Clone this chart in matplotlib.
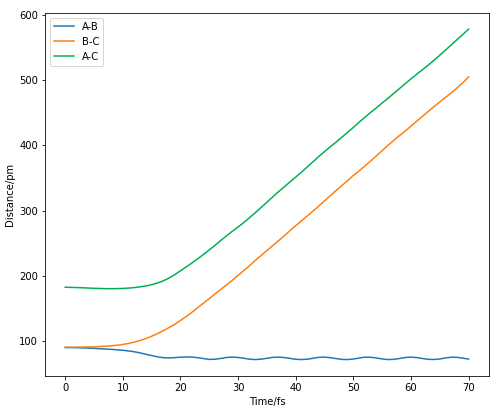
import numpy as np
import matplotlib
matplotlib.use("Agg")
import matplotlib.pyplot as plt

# tempo in fs, distanze in pm
time_fs = np.arange(0, 71, 1)

dist_ab = [90.5, 90.4, 90.2, 90.0, 89.6, 89.2, 88.7, 88.2, 87.7, 87.0,
           86.3, 85.3, 84.0, 82.3, 80.2, 78.2, 76.3, 75.0, 74.6, 75.0,
           75.7, 76.1, 75.9, 75.0, 73.6, 72.3, 72.6, 73.8, 75.3, 75.9,
           75.3, 74.0, 72.7, 72.1, 72.7, 74.0, 75.4, 75.8, 75.2, 73.9,
           72.5, 72.1, 72.6, 74.0, 75.5, 75.8, 75.0, 73.6, 72.3, 72.1,
           72.9, 74.4, 75.7, 75.6, 74.5, 73.0, 72.1, 72.4, 73.7, 75.2,
           75.8, 75.1, 73.7, 72.4, 72.2, 73.0, 74.6, 75.7, 75.5, 74.2,
           72.8]

dist_bc = [91.0, 91.0, 91.1, 91.2, 91.4, 91.6, 92.0, 92.5, 93.1, 94.0,
           95.2, 96.8, 98.8, 101.3, 104.3, 107.8, 111.8, 116.2, 121.0, 126.0,
           132.0, 138.0, 144.5, 151.5, 158.5, 165.5, 172.5, 179.5, 186.5, 193.5,
           201.0, 208.5, 216.0, 224.0, 231.5, 239.0, 246.5, 254.0, 261.5, 269.5,
           277.0, 284.5, 292.0, 299.5, 307.0, 315.0, 323.0, 331.0, 338.5, 346.0,
           354.0, 361.0, 368.5, 376.0, 384.0, 392.0, 400.0, 407.5, 415.0, 422.0,
           429.5, 437.0, 444.5, 452.0, 459.5, 466.5, 473.5, 480.5, 488.0, 496.0,
           505.0]

dist_ac = [182.8, 182.6, 182.3, 182.0, 181.6, 181.2, 180.9, 180.7, 180.6, 180.7,
           181.0, 181.5, 182.3, 183.4, 184.8, 186.7, 189.2, 192.5, 196.8, 202.0,
           208.0, 214.0, 220.0, 226.5, 233.0, 240.0, 247.0, 254.5, 261.5, 268.5,
           275.0, 282.0, 289.5, 297.0, 305.0, 313.0, 321.0, 329.0, 336.5, 344.0,
           351.5, 359.0, 367.0, 375.0, 383.0, 390.5, 398.0, 405.0, 412.5, 420.0,
           427.5, 435.5, 443.0, 450.5, 457.5, 465.0, 472.0, 479.5, 487.0, 494.5,
           502.0, 509.0, 516.0, 523.0, 530.5, 538.0, 546.0, 554.0, 562.0, 570.0,
           578.0]

fig = plt.figure(figsize=(492 / 72, 407 / 72), dpi=72)
ax = fig.add_axes([0.0915, 0.076, 0.902, 0.893])

ax.plot(time_fs, dist_ab, label='A-B', color='#1f77b4', linewidth=1.5)
ax.plot(time_fs, dist_bc, label='B-C', color='#ff7f0e', linewidth=1.5)
ax.plot(time_fs, dist_ac, label='A-C', color='#00b04f', linewidth=1.5)

ax.set_xlabel('Time/fs')
ax.set_ylabel('Distance/pm')
ax.legend(loc='upper left')

fig.savefig('out.png', dpi=72)
